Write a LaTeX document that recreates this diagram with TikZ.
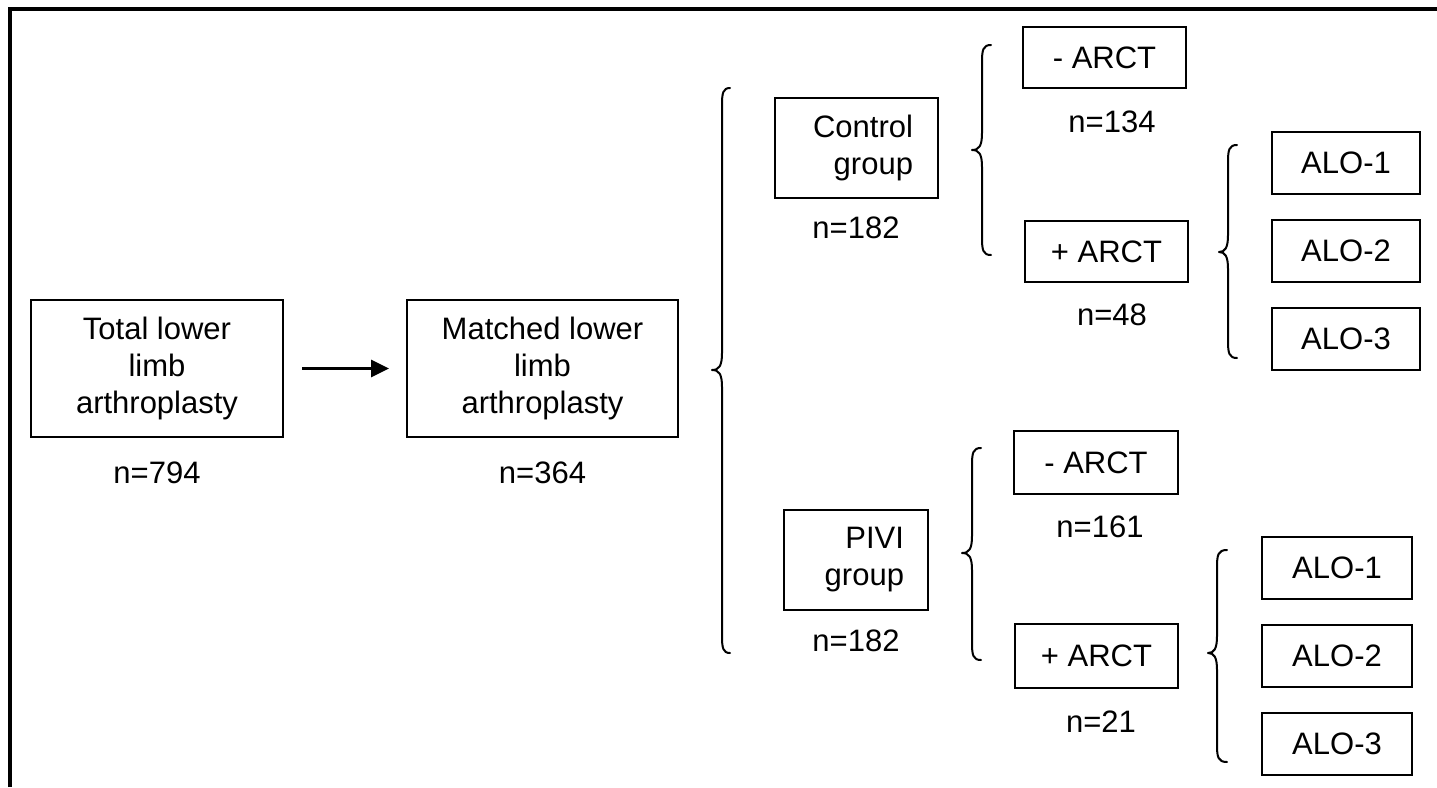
\documentclass[tikz,border=0pt]{standalone}
\usepackage{fontspec}
\setmainfont{Liberation Sans}
\usetikzlibrary{arrows.meta}

% curly brace opening to the right: #1 tip x, #2 stem x, #3 end x, #4 top y, #5 tip y, #6 bottom y
\newcommand\drawcurly[6]{%
  \draw[curly] (#3,#4) .. controls (#2+1,#4) and (#2,#4+5) .. (#2,#4+17)
    -- (#2,#5-17) .. controls (#2,#5-4) and (#2-3,#5) .. (#1,#5)
    .. controls (#2-3,#5) and (#2,#5+4) .. (#2,#5+17)
    -- (#2,#6-17) .. controls (#2,#6-5) and (#2+1,#6) .. (#3,#6);}

\tikzset{
  txt/.style={font=\fontsize{31}{37}\selectfont},
  box/.style={txt, draw, line width=2pt, inner sep=0pt, align=center},
  groupbox/.style={box, align=right, minimum height=100pt},
  arctbox/.style={box, minimum width=163pt, minimum height=62pt},
  alobox/.style={box, minimum height=62pt},
  count/.style={txt, inner sep=0pt},
  curly/.style={line width=2pt, line cap=round, line join=round},
  flow/.style={line width=3pt, -{Triangle[length=18pt,width=17pt]}},
}

\begin{document}
\begin{tikzpicture}[x=1pt, y=-1pt]
  \useasboundingbox (0,0) rectangle (1437,787);
  \fill[white] (0,0) rectangle (1437,787);

  % frame
  \draw[line width=4pt] (10,787) -- (10,9) -- (1437,9);

  % first stage
  \node[box, minimum width=252pt, minimum height=137pt] (total) at (157,368.5)
    {Total lower\\limb\\arthroplasty};
  \node[count] (ntotal) at (157,473) {n=794};

  \node[box, minimum width=271pt, minimum height=137pt] (matched) at (542.5,368.5)
    {Matched lower\\limb\\arthroplasty};
  \node[count] (nmatched) at (542.5,473) {n=364};

  \draw[flow, shorten <=18pt, shorten >=17pt] (total) -- (matched);

  \drawcurly{712}{722}{730}{88}{370}{653}

  % groups
  \node[groupbox, text width=113pt, inner xsep=25pt] (ctrl) at (856.5,148) {Control\\group};
  \node[count] (nctrl) at (856,228) {n=182};

  \node[groupbox, text width=96pt, inner xsep=24pt] (pivi) at (856,560) {PIVI\\group};
  \node[count] (npivi) at (856,641) {n=182};

  % control subgroups
  \drawcurly{972}{982}{991}{45}{150}{255}
  \node[arctbox, minimum height=61pt] (cneg) at (1104.5,57.5) {- ARCT};
  \node[count] (ncneg) at (1112,122) {n=134};
  \node[arctbox, minimum height=61pt] (cpos) at (1106.5,251.5) {+ ARCT};
  \node[count] (ncpos) at (1112,315) {n=48};

  \drawcurly{1219}{1228}{1237}{145}{252}{358}
  \node[alobox, minimum width=148pt] (calo1) at (1346,163) {ALO-1};
  \node[alobox, minimum width=148pt] (calo2) at (1346,251) {ALO-2};
  \node[alobox, minimum width=148pt] (calo3) at (1346,339) {ALO-3};

  % PIVI subgroups
  \drawcurly{962}{972}{981}{448}{553}{660}
  \node[arctbox, minimum width=164pt, minimum height=63pt] (pneg) at (1096,462.5) {- ARCT};
  \node[count] (npneg) at (1100,527) {n=161};
  \node[arctbox, minimum height=64pt] (ppos) at (1096.5,656) {+ ARCT};
  \node[count] (nppos) at (1101,722) {n=21};

  \drawcurly{1208}{1217}{1227}{550}{653}{762}
  \node[alobox, minimum width=150pt] (palo1) at (1337,568) {ALO-1};
  \node[alobox, minimum width=150pt] (palo2) at (1337,655.5) {ALO-2};
  \node[alobox, minimum width=150pt] (palo3) at (1337,744) {ALO-3};
\end{tikzpicture}
\end{document}
